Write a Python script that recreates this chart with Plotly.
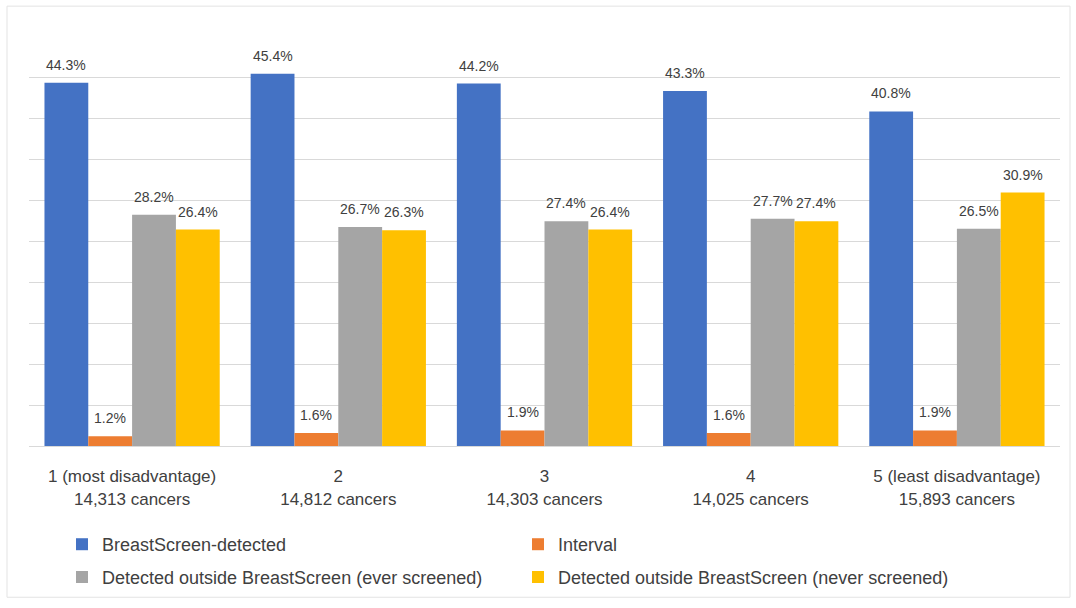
import plotly.graph_objects as go

# Quintile categories (axis labels) and cancer counts
quintiles = ["1 (most disadvantage)", "2", "3", "4", "5 (least disadvantage)"]
cancer_counts = ["14,313", "14,812", "14,303", "14,025", "15,893"]

# Percentage of cancers by detection method
breastscreen_detected = [44.3, 45.4, 44.2, 43.3, 40.8]
interval = [1.2, 1.6, 1.9, 1.6, 1.9]
outside_ever = [28.2, 26.7, 27.4, 27.7, 26.5]
outside_never = [26.4, 26.3, 26.4, 27.4, 30.9]

series = [
    ("BreastScreen-detected", breastscreen_detected, "#4472C4", "legend"),
    ("Interval", interval, "#ED7D31", "legend"),
    ("Detected outside BreastScreen (ever screened)", outside_ever, "#A5A5A5", "legend2"),
    ("Detected outside BreastScreen (never screened)", outside_never, "#FFC000", "legend2"),
]

FONT = "Liberation Sans, Arial, sans-serif"
TEXT = "#404040"

tick_text = [f"{q}<br>{c} cancers" for q, c in zip(quintiles, cancer_counts)]
x_idx = list(range(len(quintiles)))

fig = go.Figure()
for name, vals, color, leg in series:
    fig.add_trace(go.Bar(
        x=x_idx, y=vals, name=name, legend=leg,
        marker=dict(color=color, line=dict(width=0)),
    ))

# Value labels above each bar
bargap = 0.15
n = len(series)
bw = (1 - bargap) / n
annotations = []
for k, (name, vals, color, leg) in enumerate(series):
    off = -((1 - bargap) / 2) + bw * (k + 0.5)
    for i, v in enumerate(vals):
        annotations.append(dict(
            x=i + off, y=v, xref="x", yref="y",
            text=f"{v:.1f}%", showarrow=False,
            yanchor="bottom", yshift=8,
            font=dict(family=FONT, size=14, color=TEXT),
        ))

PLOT_W, PLOT_H = 1031, 412

legend_common = dict(
    orientation="h", xanchor="left", yanchor="middle",
    entrywidth=411, entrywidthmode="pixels",
    font=dict(family=FONT, size=18, color=TEXT),
    bgcolor="rgba(0,0,0,0)", itemclick=False, itemdoubleclick=False,
)

fig.update_layout(
    width=1076, height=608,
    margin=dict(l=29, r=16, t=36, b=160),
    paper_bgcolor="white", plot_bgcolor="white",
    barmode="group", bargap=bargap, bargroupgap=0,
    font=dict(family=FONT, size=17, color=TEXT),
    xaxis=dict(
        tickmode="array", tickvals=x_idx, ticktext=tick_text,
        range=[-0.5, len(quintiles) - 0.5],
        showgrid=False, zeroline=False,
        showline=True, linecolor="#d9d9d9", linewidth=1,
        ticks="", tickfont=dict(family=FONT, size=17, color=TEXT),
        ticklabelstandoff=15,
    ),
    yaxis=dict(
        range=[0, 50], dtick=5,
        showgrid=True, gridcolor="#d9d9d9", gridwidth=1,
        zeroline=False, showticklabels=False, ticks="",
    ),
    legend=dict(x=(62 - 29) / PLOT_W, y=-(547 - 448) / PLOT_H, **legend_common),
    legend2=dict(x=(62 - 29) / PLOT_W, y=-(580 - 448) / PLOT_H, **legend_common),
    annotations=annotations,
    shapes=[dict(
        type="rect", xref="paper", yref="paper",
        x0=-22 / PLOT_W, x1=1 + 10 / PLOT_W, y0=-152 / PLOT_H, y1=1 + 30 / PLOT_H,
        line=dict(color="#e3e3e3", width=1), fillcolor="rgba(0,0,0,0)",
        layer="below",
    )],
)

fig.write_html("out.html")
